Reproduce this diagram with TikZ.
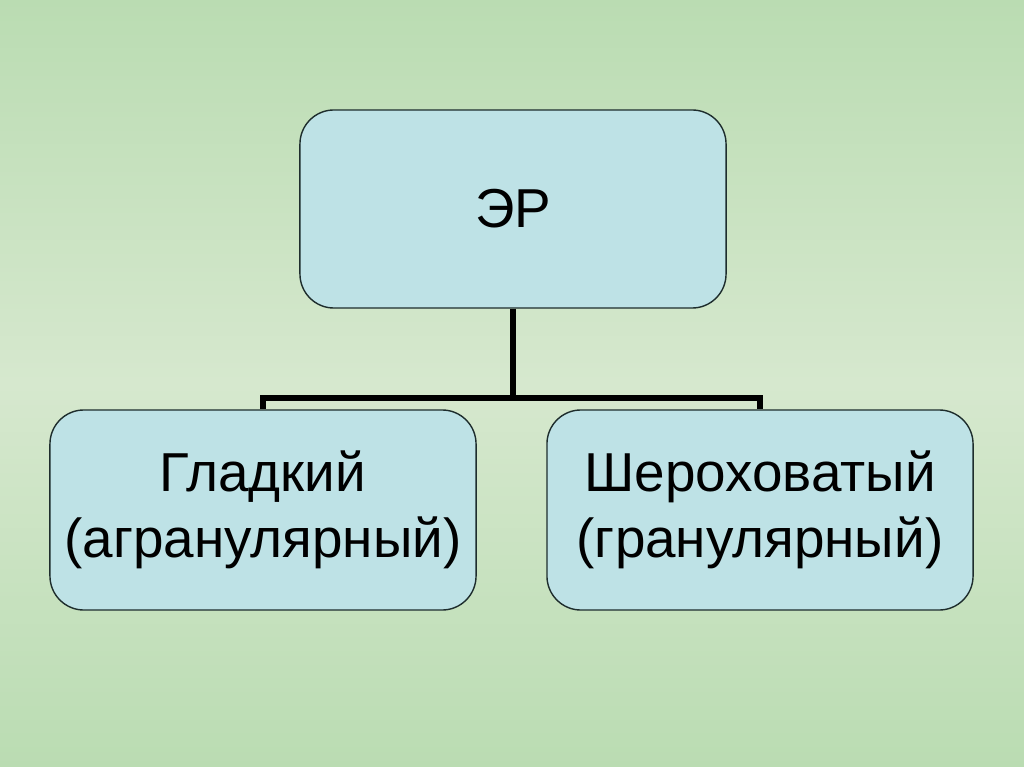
\documentclass[tikz,border=0pt]{standalone}
\usepackage{fontspec}
\setmainfont{Liberation Sans}
\usetikzlibrary{calc}
\definecolor{bgGreen}{RGB}{186,220,178}
\definecolor{bgLight}{RGB}{214,232,206}
\definecolor{boxFill}{RGB}{190,226,230}
\definecolor{boxLine}{RGB}{30,45,45}

\begin{document}
\begin{tikzpicture}[x=0.025cm,y=-0.025cm,
    box/.style={draw=boxLine,line width=1pt,fill=boxFill,rounded corners=0.85cm,
      minimum width=10.65cm,minimum height=5cm,align=center,
      font=\fontsize{39}{47}\selectfont},
    link/.style={line width=3.6pt,line join=miter}]
    % Background (1024 x 767 px, one unit = one pixel)
    \shade[top color=bgGreen,bottom color=bgGreen,middle color=bgLight] (0,0) rectangle (1024,767);
    \useasboundingbox (0,0) rectangle (1024,767);
    % Boxes
    \node[box,minimum height=4.95cm] (er) at (513,209) {ЭР};
    \node[box] (smooth) at (263,510) {Гладкий\\(агранулярный)};
    \node[box] (rough) at (760,510) {Шероховатый\\(гранулярный)};
    % Tree connector
    \coordinate (fork) at (513,398);
    \draw[link] (er.south) -- (fork);
    \draw[link] (fork) -| (smooth.north);
    \draw[link] (fork) -| (rough.north);
\end{tikzpicture}
\end{document}
